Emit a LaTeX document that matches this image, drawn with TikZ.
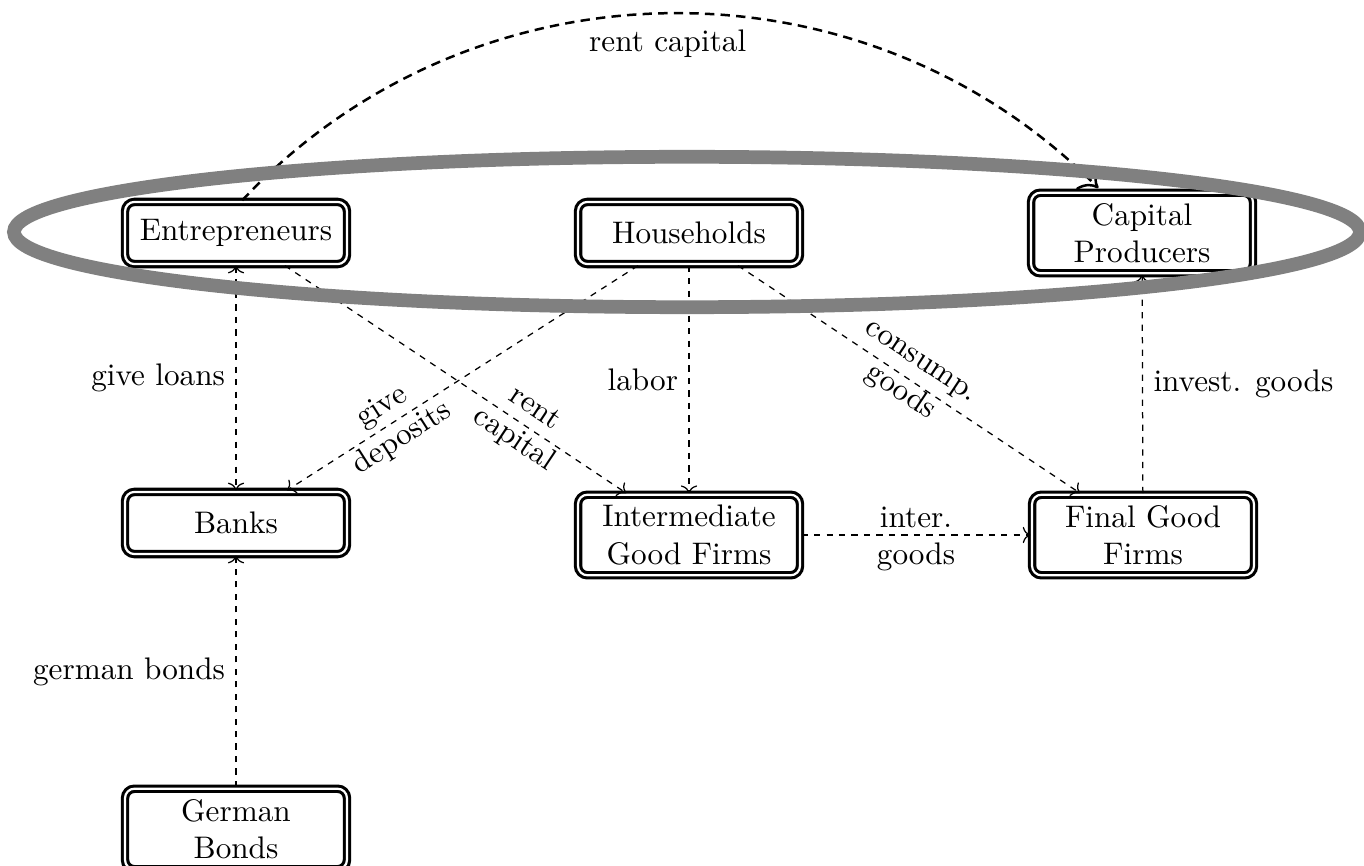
\documentclass[tikz,border=0pt]{standalone}
\usetikzlibrary{arrows,arrows.meta}
\begin{document}
\begin{tikzpicture}[x=0.3205pt,y=-0.3205pt,
  box/.style={draw, double, line width=1pt, double distance=0.7pt, rounded corners=3pt, fill=white,
    minimum width=2.5cm, minimum height=0.7cm, align=center, inner sep=3.33pt},
  flow/.style={->, dash pattern=on 2pt off 2pt, line width=0.4pt},
  rentcurve/.style={-{To[scale=1.5]}, dash pattern=on 3pt off 2pt, line width=0.8pt},
  ring/.style={draw=gray, line width=4.4pt}]
\fill[white] (0,0) rectangle (1364,866);
\useasboundingbox (0,0) rectangle (1364,866);
% nodes
\node[box] (ent) at (236,233) {Entrepreneurs};
\node[box] (hh) at (689,233) {Households};
\node[box] (cap) at (1142,233) {Capital\\Producers};
\node[box] (bank) at (236,523) {Banks};
\node[box] (inter) at (689,535) {Intermediate\\Good Firms};
\node[box] (final) at (1143,535) {Final Good\\Firms};
\node[box] (gb) at (236,829) {German\\Bonds};
% connectors
\draw[flow, <->] (ent) -- node[left] {give loans} (bank);
\draw[flow] (hh) -- node[sloped, pos=0.7, align=center] {give\\deposits} (bank);
\draw[flow] (ent) -- node[sloped, pos=0.7, align=center] {rent\\capital} (inter);
\draw[flow] (hh) -- node[left] {labor} (inter);
\draw[flow] (hh) -- node[sloped, align=center] {consump.\\goods} (final);
\draw[flow] (inter) -- node[align=center, yshift=-1.2pt] {inter.\\goods} (final);
\draw[flow] (final) -- node[right] {invest. goods} (cap);
\draw[flow] (gb) -- node[left] {german bonds} (bank);
\draw[rentcurve] ([xshift=2pt]ent.north) to[bend left=46] node[below=1.5pt] {rent capital} ([xshift=-14pt, yshift=1pt]cap.north);
% ring
\draw[ring] (687,232) ellipse [x radius=215.7pt, y radius=24.1pt];
\end{tikzpicture}
\end{document}
